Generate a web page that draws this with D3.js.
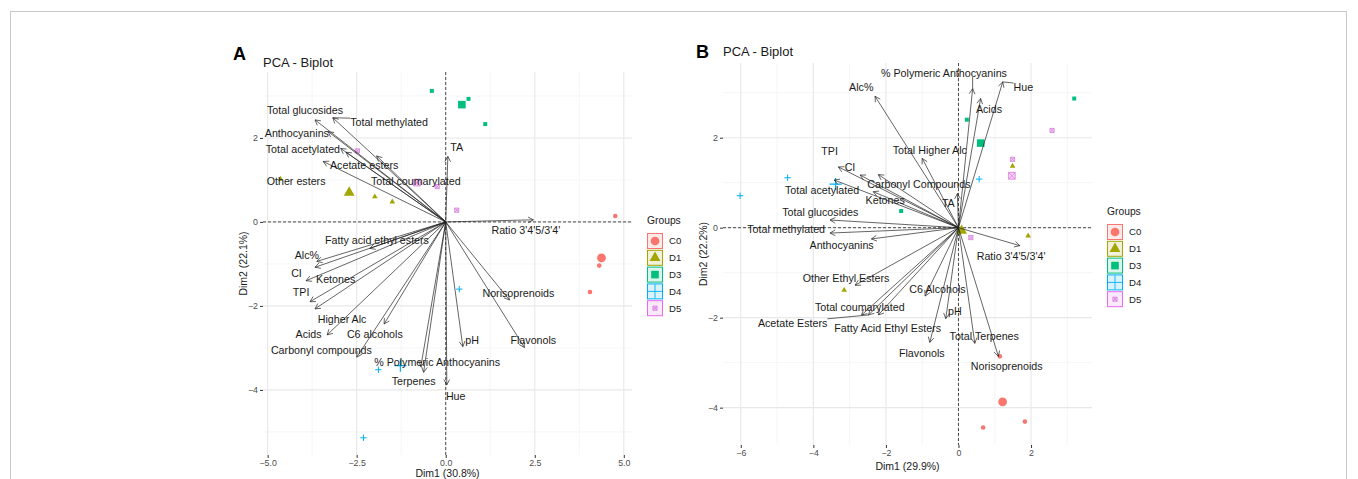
<!DOCTYPE html>
<html>
<head>
<meta charset="utf-8">
<script src="https://cdn.jsdelivr.net/npm/d3@7"></script>
<style>
  body { margin: 0; background: #fff; }
  text { font-family: "Liberation Sans", Arial, sans-serif; }
</style>
</head>
<body>
<svg id="chart" width="1358" height="479"></svg>
<script>
  // ---- data ----
  var groups = ['C0', 'D1', 'D3', 'D4', 'D5'];
  var groupColors = ['#F8766D', '#A3A500', '#00BF7D', '#00B0F6', '#E76BF3'];

  // panel A individuals: [group, Dim1, Dim2]
  var indA = [
    ['C0', 4.76, 0.14], ['C0', 4.31, -1.04], ['C0', 4.05, -1.67],
    ['D1', -1.99, 0.60], ['D1', -1.50, 0.48], ['D1', -4.64, 1.02],
    ['D3', -0.39, 3.12], ['D3', 0.64, 2.93], ['D3', 1.11, 2.33],
    ['D4', -1.89, -3.52], ['D4', -2.31, -5.14], ['D4', 0.38, -1.60],
    ['D5', -2.48, 1.69], ['D5', -0.24, 0.84], ['D5', 0.31, 0.28]
  ];

  // panel A variables: [name, arrow Dim1, arrow Dim2, label Dim1, label Dim2]
  var varsA = [
    ['Total glucosides', -3.67, 2.43, -3.95, 2.66],
    ['Total methylated', -3.17, 2.48, -1.59, 2.37],
    ['Anthocyanins', -3.30, 2.15, -4.18, 2.10],
    ['Total acetylated', -2.95, 1.75, -4.01, 1.73],
    ['Acetate esters', -2.80, 1.66, -2.29, 1.34],
    ['Other esters', -3.44, 1.44, -4.20, 0.98],
    ['Total coumarylated', -1.94, 1.57, -0.84, 0.98],
    ['TA', 0.06, 1.56, 0.31, 1.78],
    ["Ratio 3'4'5/3'4'", 2.46, 0.05, 2.25, -0.19],
    ['Fatty acid ethyl esters', -2.13, -0.63, -1.93, -0.43],
    ['Alc%', -3.62, -0.94, -3.90, -0.79],
    ['CI', -3.92, -1.40, -4.19, -1.22],
    ['Ketones', -3.67, -1.08, -3.09, -1.36],
    ['TPI', -3.81, -1.90, -4.06, -1.68],
    ['Higher Alc', -3.67, -2.07, -2.91, -2.32],
    ['Acids', -3.33, -2.69, -3.85, -2.67],
    ['C6 alcohols', -1.73, -2.43, -1.99, -2.67],
    ['Carbonyl compounds', -2.50, -3.22, -3.49, -3.05],
    ['% Polymeric Anthocyanins', -0.70, -3.45, -0.24, -3.33],
    ['Terpenes', -0.62, -3.58, -0.90, -3.80],
    ['Hue', 0.03, -3.88, 0.28, -4.16],
    ['pH', 0.48, -2.97, 0.74, -2.81],
    ['Norisoprenoids', 1.79, -1.86, 2.04, -1.70],
    ['Flavonols', 2.21, -2.99, 2.46, -2.81]
  ];
  var segA = ['Total methylated'];

  // panel B individuals
  var indB = [
    ['C0', 1.14, -2.86], ['C0', 0.68, -4.44], ['C0', 1.83, -4.31],
    ['D1', 1.92, -0.18], ['D1', 1.49, 1.37], ['D1', -3.15, -1.39],
    ['D3', 3.19, 2.87], ['D3', 0.23, 2.40], ['D3', -1.58, 0.37],
    ['D4', -6.02, 0.71], ['D4', -4.71, 1.11], ['D4', 0.57, 1.08],
    ['D5', 2.58, 2.16], ['D5', 1.49, 1.52], ['D5', 0.34, -0.22]
  ];

  var varsB = [
    ['% Polymeric Anthocyanins', 0.39, 3.09, -0.40, 3.43],
    ['Hue', 1.22, 3.24, 1.79, 3.12],
    ['Alc%', -2.30, 2.92, -2.68, 3.11],
    ['Acids', 0.61, 2.87, 0.84, 2.63],
    ['Total Higher Alc', -1.00, 1.54, -0.79, 1.72],
    ['TPI', -3.31, 1.35, -3.55, 1.70],
    ['CI', -2.71, 1.17, -2.99, 1.34],
    ['Carbonyl Compounds', -2.21, 1.18, -1.09, 0.97],
    ['Total acetylated', -3.43, 1.06, -3.76, 0.83],
    ['Ketones', -2.35, 0.80, -2.02, 0.61],
    ['TA', -0.03, 0.76, -0.28, 0.54],
    ['Total glucosides', -3.54, 0.17, -3.81, 0.34],
    ['Total methylated', -3.54, -0.12, -4.75, -0.04],
    ['Anthocyanins', -2.40, -0.25, -3.22, -0.39],
    ["Ratio 3'4'5/3'4'", 1.69, -0.40, 1.45, -0.63],
    ['Other Ethyl Esters', -2.85, -1.28, -3.10, -1.12],
    ['C6 Alcohols', -0.92, -1.52, -0.58, -1.37],
    ['Total coumarylated', -2.67, -1.94, -2.72, -1.77],
    ['Acetate Esters', -2.48, -1.94, -4.57, -2.12],
    ['Fatty Acid Ethyl Esters', -2.21, -1.94, -1.95, -2.23],
    ['pH', -0.35, -2.02, -0.10, -1.86],
    ['Flavonols', -0.79, -2.55, -1.01, -2.78],
    ['Total Terpenes', 0.45, -2.57, 0.71, -2.41],
    ['Norisoprenoids', 1.10, -2.86, 1.33, -3.09]
  ];
  var segB = ['% Polymeric Anthocyanins', 'Hue', 'Acetate Esters'];

  var ticksAx = [-5, -2.5, 0, 2.5, 5];
  var ticksAy = [-4, -2, 0, 2];
  var ticksBx = [-6, -4, -2, 0, 2];
  var ticksBy = [-4, -2, 0, 2];

  var svg = d3.select('#chart');
  var color = d3.scaleOrdinal().domain(groups).range(groupColors);

  // outer frame of the figure
  svg.append('rect')
    .attr('x', 10.5).attr('y', 11.5)
    .attr('width', 1336).attr('height', 500)
    .attr('fill', 'none').attr('stroke', '#c8c8c8');

  function minorTicks(t, dom) {
    var step = t[1] - t[0];
    var out = t.map(function(v) { return v - step / 2; });
    out.push(t[t.length - 1] + step / 2);
    return out.filter(function(v) { return v > dom[0] && v < dom[1]; });
  }

  // draws one marker; big = group mean
  function marker(g, grp, cx, cy, big) {
    var c = color(grp);
    var s = big ? 1.9 : 1;
    if (grp === 'C0') {
      g.append('circle').attr('cx', cx).attr('cy', cy).attr('r', 2.3 * s).attr('fill', c);
    } else if (grp === 'D1') {
      g.append('path').attr('transform', 'translate(' + cx + ',' + cy + ')')
        .attr('d', d3.symbol(d3.symbolTriangle, 14 * s * s)()).attr('fill', c);
    } else if (grp === 'D3') {
      g.append('path').attr('transform', 'translate(' + cx + ',' + cy + ')')
        .attr('d', d3.symbol(d3.symbolSquare, 16 * s * s)()).attr('fill', c);
    } else if (grp === 'D4') {
      var h = 3.2 * s;
      g.append('path')
        .attr('d', 'M' + (cx - h) + ',' + cy + 'H' + (cx + h) + 'M' + cx + ',' + (cy - h) + 'V' + (cy + h))
        .attr('stroke', c).attr('stroke-width', big ? 1.2 : 1).attr('fill', 'none');
    } else {
      var q = big ? 3.4 : 2.1;
      g.append('path')
        .attr('d', 'M' + (cx - q) + ',' + (cy - q) + 'h' + 2 * q + 'v' + 2 * q + 'h' + (-2 * q) + 'z' +
          'M' + (cx - q) + ',' + (cy - q) + 'L' + (cx + q) + ',' + (cy + q) +
          'M' + (cx + q) + ',' + (cy - q) + 'L' + (cx - q) + ',' + (cy + q))
        .attr('stroke', '#d77fd9').attr('stroke-width', 0.8).attr('fill', d3.color(c).copy({opacity: 0.3}));
    }
  }

  function drawPanel(p) {
    var x = d3.scaleLinear().domain(p.xDom).range([p.left, p.right]);
    var y = d3.scaleLinear().domain(p.yDom).range([p.bottom, p.top]);
    var g = svg.append('g');

    // grid
    g.selectAll('.mx').data(minorTicks(p.xTicks, p.xDom)).enter().append('line')
      .attr('x1', x).attr('x2', x).attr('y1', p.top).attr('y2', p.bottom)
      .attr('stroke', '#f2f2f2').attr('stroke-width', 0.7);
    g.selectAll('.my').data(minorTicks(p.yTicks, p.yDom)).enter().append('line')
      .attr('y1', y).attr('y2', y).attr('x1', p.left).attr('x2', p.right)
      .attr('stroke', '#f2f2f2').attr('stroke-width', 0.7);
    g.selectAll('.gx').data(p.xTicks).enter().append('line')
      .attr('x1', x).attr('x2', x).attr('y1', p.top).attr('y2', p.bottom)
      .attr('stroke', '#e8e8e8').attr('stroke-width', 1.1);
    g.selectAll('.gy').data(p.yTicks).enter().append('line')
      .attr('y1', y).attr('y2', y).attr('x1', p.left).attr('x2', p.right)
      .attr('stroke', '#e8e8e8').attr('stroke-width', 1.1);

    // axes
    var ax = g.append('g').attr('transform', 'translate(0,' + p.bottom + ')')
      .call(d3.axisBottom(x).tickValues(p.xTicks).tickFormat(p.xFmt).tickSize(3).tickPadding(2));
    var ay = g.append('g').attr('transform', 'translate(' + p.left + ',0)')
      .call(d3.axisLeft(y).tickValues(p.yTicks).tickFormat(d3.format('d')).tickSize(3).tickPadding(2));
    [ax, ay].forEach(function(a) {
      a.select('.domain').remove();
      a.selectAll('line').attr('stroke', '#333');
      a.selectAll('text').attr('fill', '#4d4d4d').style('font-size', '8.8px')
        .style('font-family', '"Liberation Sans", Arial, sans-serif');
    });

    // zero lines
    g.append('line').attr('x1', x(0)).attr('x2', x(0)).attr('y1', p.top).attr('y2', p.bottom)
      .attr('stroke', '#222').attr('stroke-width', 0.8).attr('stroke-dasharray', '3,2');
    g.append('line').attr('y1', y(0)).attr('y2', y(0)).attr('x1', p.left).attr('x2', p.right)
      .attr('stroke', '#222').attr('stroke-width', 0.8).attr('stroke-dasharray', '3,2');

    // individuals and group means
    var pts = g.append('g');
    p.ind.forEach(function(d) { marker(pts, d[0], x(d[1]), y(d[2]), false); });
    var means = d3.rollups(p.ind, function(v) {
      return [d3.mean(v, function(d) { return d[1]; }), d3.mean(v, function(d) { return d[2]; })];
    }, function(d) { return d[0]; });
    means.forEach(function(m) { marker(pts, m[0], x(m[1][0]), y(m[1][1]), true); });

    // variable arrows
    var arr = g.append('g').attr('stroke', '#222').attr('stroke-width', 0.7).attr('fill', 'none');
    var x0 = x(0), y0 = y(0);
    p.vars.forEach(function(v) {
      var tx = x(v[1]), ty = y(v[2]);
      var a = Math.atan2(ty - y0, tx - x0), L = 6, th = 0.5;
      arr.append('path')
        .attr('d', 'M' + x0 + ',' + y0 + 'L' + tx + ',' + ty +
          'M' + (tx - L * Math.cos(a - th)) + ',' + (ty - L * Math.sin(a - th)) +
          'L' + tx + ',' + ty +
          'L' + (tx - L * Math.cos(a + th)) + ',' + (ty - L * Math.sin(a + th)));
    });

    // labels
    var lab = g.append('g');
    p.vars.forEach(function(v) {
      var t = lab.append('text').attr('x', x(v[3])).attr('y', y(v[4])).attr('dy', '0.35em')
        .attr('text-anchor', 'middle').attr('fill', '#1a1a1a').style('font-size', '10.7px').text(v[0]);
      if (p.seg.indexOf(v[0]) >= 0) {
        var b = t.node().getBBox();
        var tx = x(v[1]), ty = y(v[2]);
        var sx = Math.max(b.x, Math.min(tx, b.x + b.width));
        var sy = Math.max(b.y + 2, Math.min(ty, b.y + b.height - 2));
        lab.insert('line', ':first-child').attr('x1', tx).attr('y1', ty).attr('x2', sx).attr('y2', sy)
          .attr('stroke', '#222').attr('stroke-width', 0.7);
      }
    });

    // titles
    g.append('text').attr('x', p.tagX).attr('y', p.tagY).style('font-size', '18px')
      .style('font-weight', 'bold').attr('fill', '#000').text(p.tag);
    g.append('text').attr('x', p.left).attr('y', p.titleY).style('font-size', '13px')
      .attr('fill', '#1a1a1a').text('PCA - Biplot');
    g.append('text').attr('x', (p.left + p.right) / 2).attr('y', p.xLabY).attr('text-anchor', 'middle')
      .style('font-size', '10.5px').attr('fill', '#1a1a1a').text(p.xLab);
    g.append('text').attr('transform', 'translate(' + p.yLabX + ',' + (p.top + p.bottom) / 2 + ') rotate(-90)')
      .attr('text-anchor', 'middle').style('font-size', '10.5px').attr('fill', '#1a1a1a').text(p.yLab);

    // legend
    var lg = g.append('g').attr('transform', 'translate(' + p.legX + ',' + p.legY + ')');
    lg.append('text').attr('x', 0).attr('y', 0).style('font-size', '10.3px').attr('fill', '#1a1a1a').text('Groups');
    groups.forEach(function(grp, i) {
      var ky = 9 + i * 16.8;
      lg.append('rect').attr('x', 0.5).attr('y', ky + 0.5).attr('width', 15).attr('height', 15)
        .attr('fill', d3.color(color(grp)).copy({opacity: 0.15})).attr('stroke', color(grp)).attr('stroke-width', 1);
      if (grp === 'D4') {
        lg.append('path').attr('d', 'M1,' + (ky + 8) + 'H15M8,' + (ky + 1) + 'V' + (ky + 15))
          .attr('stroke', color(grp)).attr('stroke-width', 0.9);
      } else {
        marker(lg, grp, 8, ky + 8, grp !== 'D5');
      }
      lg.append('text').attr('x', 22).attr('y', ky + 8).attr('dy', '0.35em')
        .style('font-size', '9.6px').attr('fill', '#1a1a1a').text(grp);
    });
  }

  drawPanel({
    ind: indA, vars: varsA, seg: segA,
    xDom: [-5.13, 5.23], yDom: [-5.55, 3.57],
    left: 263, right: 632, top: 72, bottom: 455,
    xTicks: ticksAx, yTicks: ticksAy, xFmt: d3.format('.1f'),
    tag: 'A', tagX: 233, tagY: 60, titleY: 66.5,
    xLab: 'Dim1 (30.8%)', xLabY: 477, yLab: 'Dim2 (22.1%)', yLabX: 247,
    legX: 647, legY: 224
  });

  drawPanel({
    ind: indB, vars: varsB, seg: segB,
    xDom: [-6.49, 3.68], yDom: [-4.83, 3.66],
    left: 723, right: 1092, top: 63, bottom: 445,
    xTicks: ticksBx, yTicks: ticksBy, xFmt: d3.format('d'),
    tag: 'B', tagX: 696, tagY: 58, titleY: 56,
    xLab: 'Dim1 (29.9%)', xLabY: 470, yLab: 'Dim2 (22.2%)', yLabX: 707,
    legX: 1107, legY: 215
  });
</script>
</body>
</html>
